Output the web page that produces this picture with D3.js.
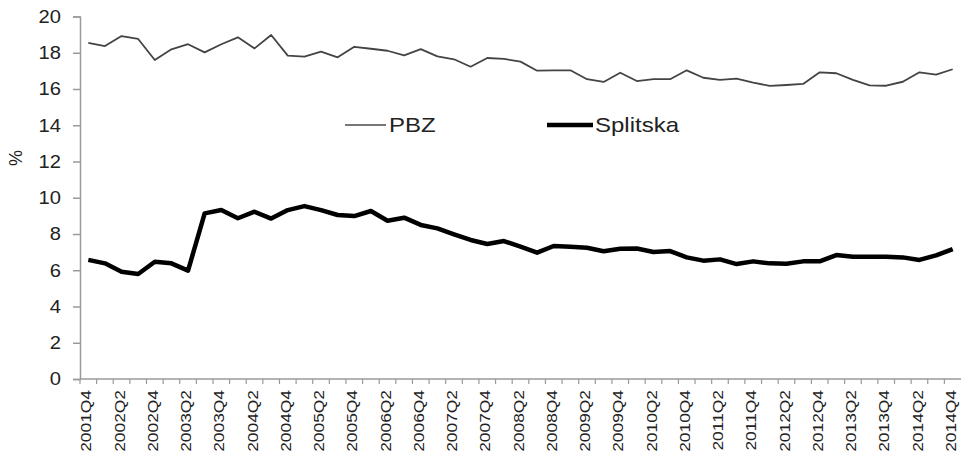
<!DOCTYPE html>
<html lang="en">
<head>
    <meta charset="UTF-8">
    <title>PBZ vs Splitska</title>
    <script src="https://d3js.org/d3.v7.min.js"></script>
    <style>
        body { margin: 0; background: #fff; }
        text { font-family: "Liberation Sans", Arial, sans-serif; fill: #222; }
    </style>
</head>
<body>
    <svg id="chart" width="961" height="455"></svg>

    <script>
        // quarters 2001Q4 .. 2014Q4
        const quarters = [];
        for (let yr = 2001; yr <= 2014; yr++) {
            for (let q = 1; q <= 4; q++) {
                if (yr === 2001 && q < 4) continue;
                quarters.push(yr + "Q" + q);
            }
        }

        const pbz = [18.55, 18.37, 18.92, 18.76, 17.6, 18.19, 18.47, 18.02, 18.47, 18.85,
                     18.24, 18.98, 17.84, 17.79, 18.06, 17.75, 18.33, 18.22, 18.11, 17.86,
                     18.2, 17.8, 17.64, 17.23, 17.71, 17.66, 17.51, 17.01, 17.03, 17.03,
                     16.54, 16.39, 16.9, 16.44, 16.54, 16.54, 17.03, 16.62, 16.5, 16.57,
                     16.35, 16.17, 16.22, 16.28, 16.92, 16.87, 16.5, 16.2, 16.18, 16.4,
                     16.92, 16.79, 17.09];

        const splitska = [6.57, 6.38, 5.92, 5.79, 6.47, 6.38, 5.98, 9.14, 9.32, 8.87,
                          9.23, 8.85, 9.32, 9.54, 9.32, 9.05, 8.99, 9.27, 8.73, 8.9,
                          8.5, 8.31, 7.98, 7.67, 7.45, 7.61, 7.3, 6.97, 7.34, 7.3,
                          7.24, 7.05, 7.19, 7.2, 7.01, 7.06, 6.71, 6.53, 6.6, 6.34,
                          6.49, 6.38, 6.36, 6.49, 6.49, 6.84, 6.75, 6.75, 6.75, 6.71,
                          6.57, 6.82, 7.16];

        const yTicks = [0, 2, 4, 6, 8, 10, 12, 14, 16, 18, 20];

        const svg = d3.select("#chart");
        const m = { left: 80, right: 961, top: 16.5, bottom: 379 };

        const x = d3.scaleBand().domain(quarters).range([m.left, m.right]).padding(0);
        const y = d3.scaleLinear().domain([0, 20]).range([m.bottom, m.top]);
        const cx = d => x(d) + x.bandwidth() / 2;

        // y axis
        const yAxis = svg.append("g")
            .attr("transform", "translate(" + m.left + ",0)")
            .call(d3.axisLeft(y).tickValues(yTicks).tickSize(7).tickPadding(10));
        yAxis.selectAll("path, line").attr("stroke", "#9a9a9a").attr("stroke-width", 1.5);
        yAxis.selectAll("text")
            .style("font-size", "18px")
            .attr("fill", "#222")
            .attr("transform", "scale(1.12,1)");

        // x axis: ticks between categories, labels every second quarter
        const xg = svg.append("g").attr("transform", "translate(0," + m.bottom + ")");
        xg.append("line")
            .attr("x1", m.left).attr("x2", m.right)
            .attr("stroke", "#9a9a9a").attr("stroke-width", 1.5);
        xg.selectAll(".tk")
            .data(quarters)
            .enter().append("line")
            .attr("class", "tk")
            .attr("x1", d => x(d)).attr("x2", d => x(d))
            .attr("y1", 0).attr("y2", 5)
            .attr("stroke", "#9a9a9a").attr("stroke-width", 1.2);
        xg.selectAll(".lbl")
            .data(quarters.filter((d, i) => i % 2 === 0))
            .enter().append("text")
            .attr("class", "lbl")
            .attr("transform", d => "translate(" + (cx(d) - 2) + ",11) rotate(-90) scale(1.2,1)")
            .attr("dy", "0.35em")
            .attr("text-anchor", "end")
            .style("font-size", "14.5px")
            .text(d => d);

        // y label
        svg.append("text")
            .attr("transform", "translate(22,158) rotate(-90)")
            .attr("text-anchor", "middle")
            .style("font-size", "18px")
            .text("%");

        const line = d3.line().x((d, i) => cx(quarters[i])).y(d => y(d));

        svg.append("path")
            .datum(pbz)
            .attr("d", line)
            .attr("fill", "none")
            .attr("stroke", "#444")
            .attr("stroke-width", 1.8)
            .attr("stroke-linejoin", "round");

        svg.append("path")
            .datum(splitska)
            .attr("d", line)
            .attr("fill", "none")
            .attr("stroke", "#000")
            .attr("stroke-width", 4.5)
            .attr("stroke-linejoin", "round");

        // legend
        const legend = svg.append("g").attr("transform", "translate(0,125)");
        legend.append("line")
            .attr("x1", 345).attr("x2", 386)
            .attr("stroke", "#777").attr("stroke-width", 1.8);
        legend.append("text")
            .attr("transform", "translate(389,0) scale(1.2,1)")
            .attr("dy", "0.35em")
            .style("font-size", "20px")
            .text("PBZ");
        legend.append("line")
            .attr("x1", 547).attr("x2", 593)
            .attr("stroke", "#000").attr("stroke-width", 4.5);
        legend.append("text")
            .attr("transform", "translate(595,0) scale(1.2,1)")
            .attr("dy", "0.35em")
            .style("font-size", "20px")
            .text("Splitska");
    </script>
</body>
</html>
